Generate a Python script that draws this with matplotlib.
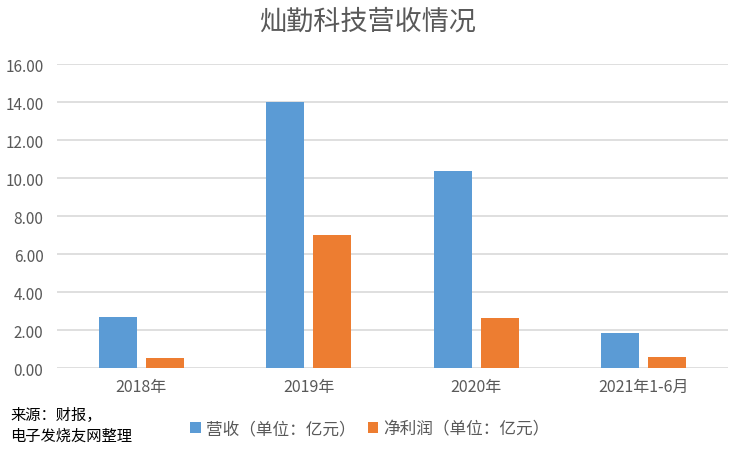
import matplotlib.pyplot as plt
import numpy as np

plt.rcParams['font.family'] = ['Noto Sans CJK SC', 'DejaVu Sans']

years = ['2018年', '2019年', '2020年', '2021年1-6月']
revenue = [2.68, 14.0, 10.37, 1.84]      # 营收
net_profit = [0.55, 7.01, 2.62, 0.57]    # 净利润
yticks = [0, 2, 4, 6, 8, 10, 12, 14, 16]

fig = plt.figure(figsize=(7.36, 4.52), dpi=100)
ax = fig.add_axes([57.3 / 736, 1 - 369.3 / 452, 670.4 / 736, 304.3 / 452])

x = np.arange(len(years))
w = 0.227
ax.bar(x - 0.14, revenue, w, color='#5B9BD5', label='营收（单位：亿元）', zorder=3)
ax.bar(x + 0.14, net_profit, w, color='#ED7D31', label='净利润（单位：亿元）', zorder=3)

ax.set_xlim(-0.5, 3.5)
ax.set_ylim(0, 16)
ax.set_yticks(yticks)
ax.set_yticklabels(['%.2f' % v for v in yticks])
ax.set_xticks(x)
ax.set_xticklabels(years)
ax.yaxis.grid(True, color='#D9D9D9', linewidth=1.2, zorder=0)
ax.tick_params(length=0, colors='#595959')
ax.tick_params(axis='y', pad=10, labelsize=11)
ax.tick_params(axis='x', pad=7, labelsize=11.5)
for s in ax.spines.values():
    s.set_visible(False)

fig.text(0.5, 1 - 22 / 452, '灿勤科技营收情况', ha='center', va='center',
         fontsize=19.5, color='#595959')
fig.text(10 / 736, 1 - 415 / 452, '来源：财报，', ha='left', va='center',
         fontsize=11, color='black')
fig.text(10 / 736, 1 - 436 / 452, '电子发烧友网整理', ha='left', va='center',
         fontsize=11, color='black')

fig.legend(loc='center', bbox_to_anchor=(370 / 736, 1 - 430 / 452), ncol=2,
           frameon=False, fontsize=12, handlelength=0.65, handleheight=0.65,
           handletextpad=0.3, columnspacing=0.7, labelcolor='#595959')

fig.savefig('out.png', dpi=100)
